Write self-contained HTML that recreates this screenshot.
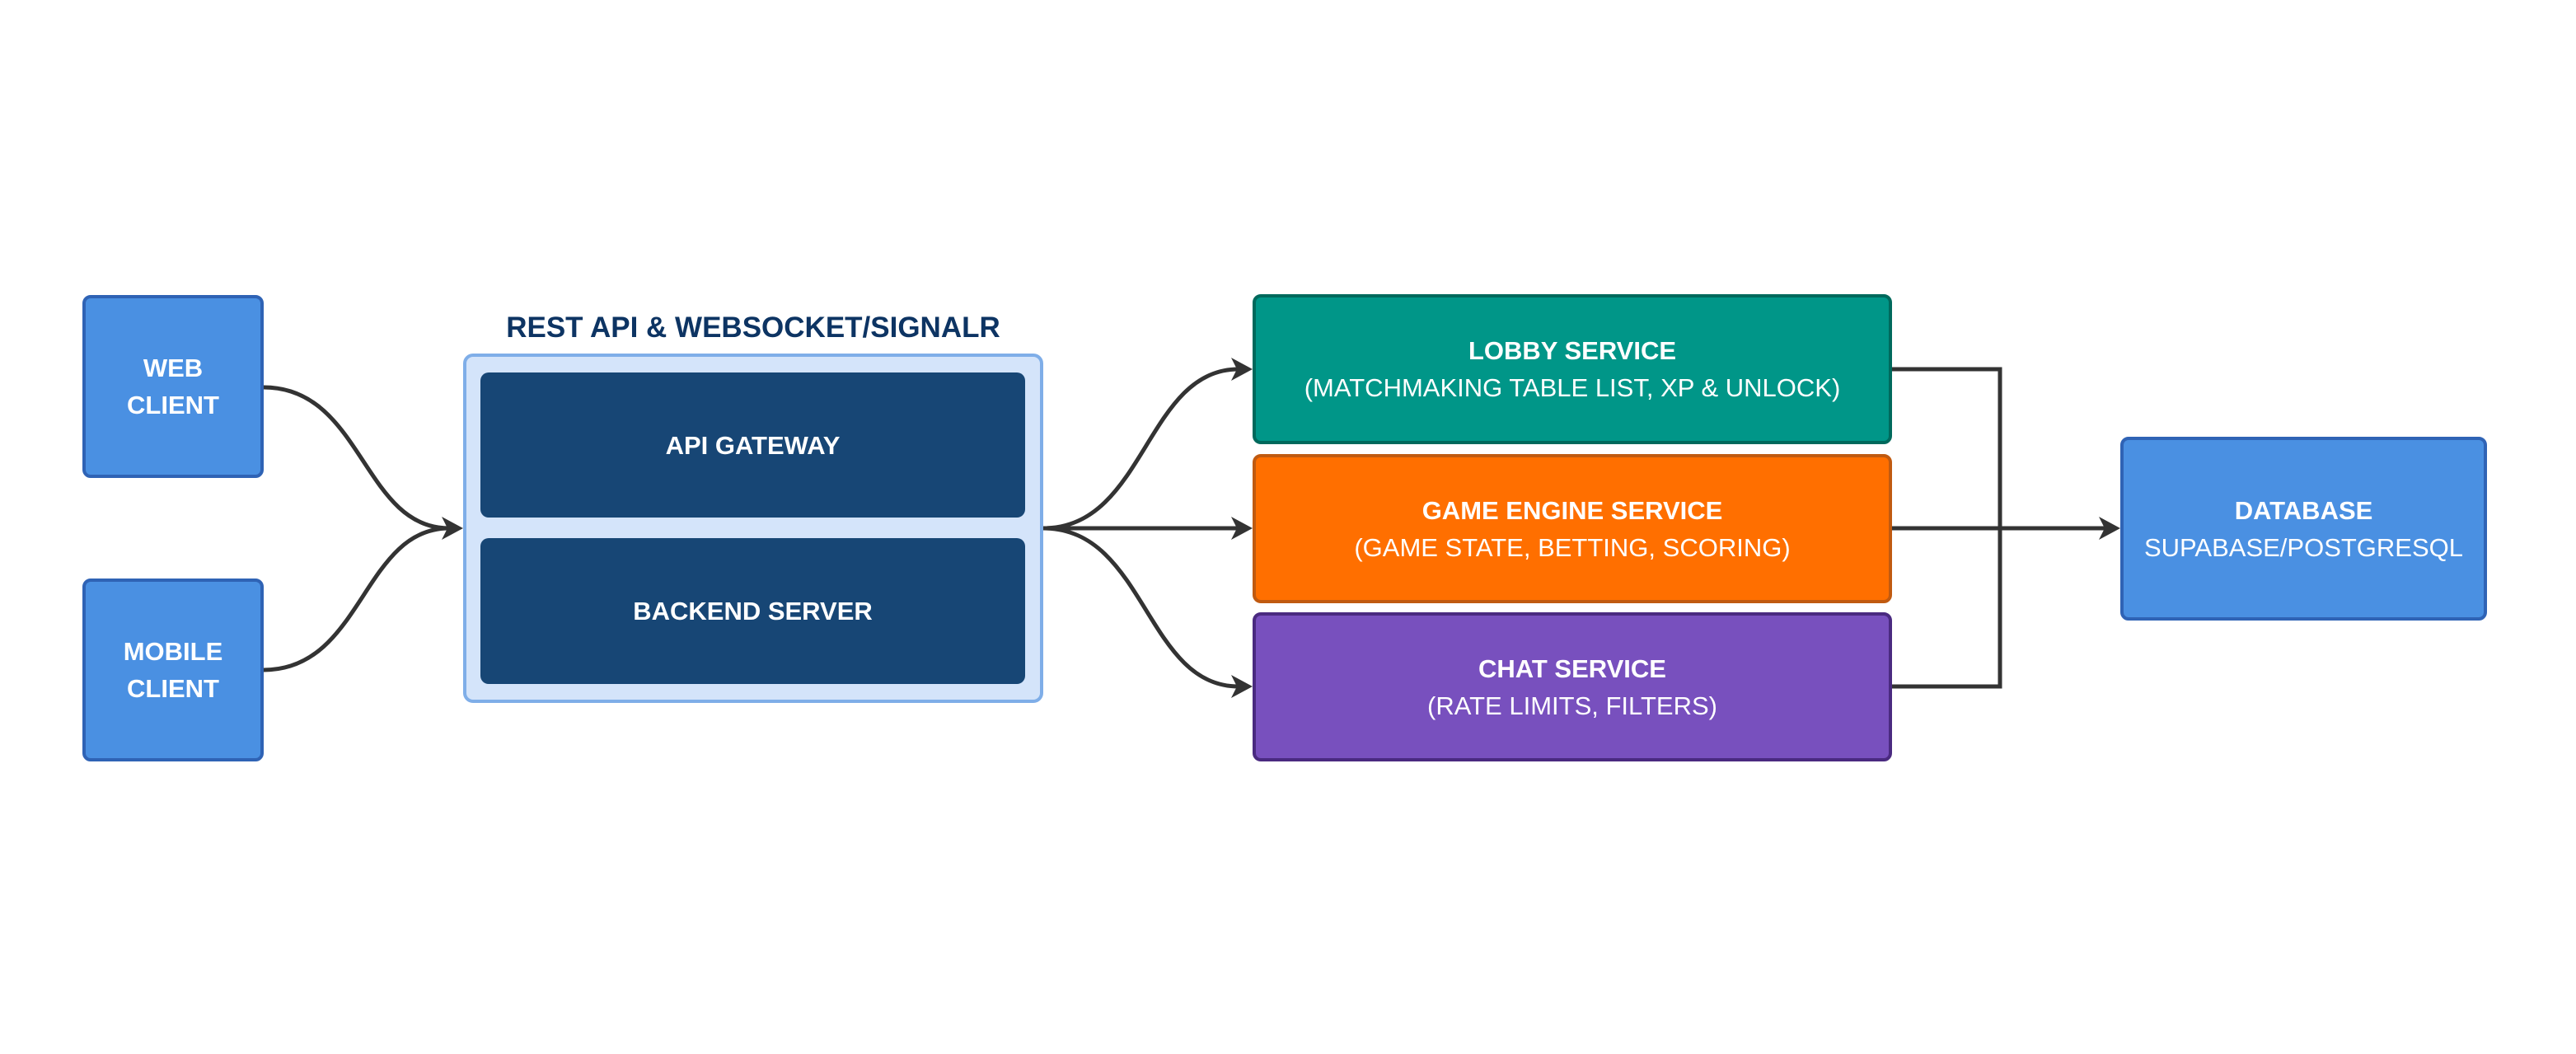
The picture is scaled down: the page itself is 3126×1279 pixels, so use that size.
<!DOCTYPE html>
<html><head><meta charset="utf-8"><style>
html,body{margin:0;padding:0;background:#fff}
body{width:3126px;height:1279px;position:relative;overflow:hidden;font-family:"Liberation Sans",sans-serif}
.b{position:absolute;box-sizing:border-box;border-radius:10px;display:flex;flex-direction:column;align-items:center;justify-content:center;color:#fff;text-align:center;font-size:31px;line-height:45px}
.t{font-weight:bold}
</style></head><body>
<svg width="3126" height="1279" style="position:absolute;left:0;top:0">
<g fill="none" stroke="#333" stroke-width="5">
<path d="M320,470 C440,470 440,641 545,641"/>
<path d="M320,813 C440,813 440,641 545,641"/>
<path d="M1266,641 C1390,641 1390,448 1503,448"/>
<path d="M1266,641 L1503,641"/>
<path d="M1266,641 C1390,641 1390,833 1503,833"/>
<path d="M2296,448 L2427,448 L2427,833 L2296,833"/>
<path d="M2296,641 L2556,641"/>
</g>
<g fill="#333">
<path d="M562,641 l-26,-14 l7,14 l-7,14z"/>
<path d="M1520,448 l-26,-14 l7,14 l-7,14z"/>
<path d="M1520,641 l-26,-14 l7,14 l-7,14z"/>
<path d="M1520,833 l-26,-14 l7,14 l-7,14z"/>
<path d="M2573,641 l-26,-14 l7,14 l-7,14z"/>
</g>
</svg>
<div class="b t" style="left:100px;top:358px;width:220px;height:222px;background:#4A90E2;border:4px solid #2F63B5">WEB<br>CLIENT</div>
<div class="b t" style="left:100px;top:702px;width:220px;height:222px;background:#4A90E2;border:4px solid #2F63B5">MOBILE<br>CLIENT</div>
<div style="position:absolute;left:562px;width:704px;top:378px;text-align:center;font-weight:bold;font-size:35px;color:#0D3463">REST API &amp; WEBSOCKET/SIGNALR</div>
<div class="b" style="left:562px;top:429px;width:704px;height:424px;background:#D4E4FA;border:4px solid #7FAEE8;border-radius:12px"></div>
<div class="b t" style="left:583px;top:452px;width:661px;height:176px;background:#174675">API GATEWAY</div>
<div class="b t" style="left:583px;top:653px;width:661px;height:177px;background:#174675">BACKEND SERVER</div>
<div class="b" style="left:1520px;top:357px;width:776px;height:182px;background:#009688;border:4px solid #00695C"><span class="t">LOBBY SERVICE</span><span>(MATCHMAKING TABLE LIST, XP &amp; UNLOCK)</span></div>
<div class="b" style="left:1520px;top:551px;width:776px;height:181px;background:#FF6F00;border:4px solid #C05A10"><span class="t">GAME ENGINE SERVICE</span><span>(GAME STATE, BETTING, SCORING)</span></div>
<div class="b" style="left:1520px;top:743px;width:776px;height:181px;background:#7850BE;border:4px solid #4A2A80"><span class="t">CHAT SERVICE</span><span>(RATE LIMITS, FILTERS)</span></div>
<div class="b" style="left:2573px;top:530px;width:445px;height:223px;background:#4A90E2;border:4px solid #2F63B5"><span class="t">DATABASE</span><span>SUPABASE/POSTGRESQL</span></div>
</body></html>
